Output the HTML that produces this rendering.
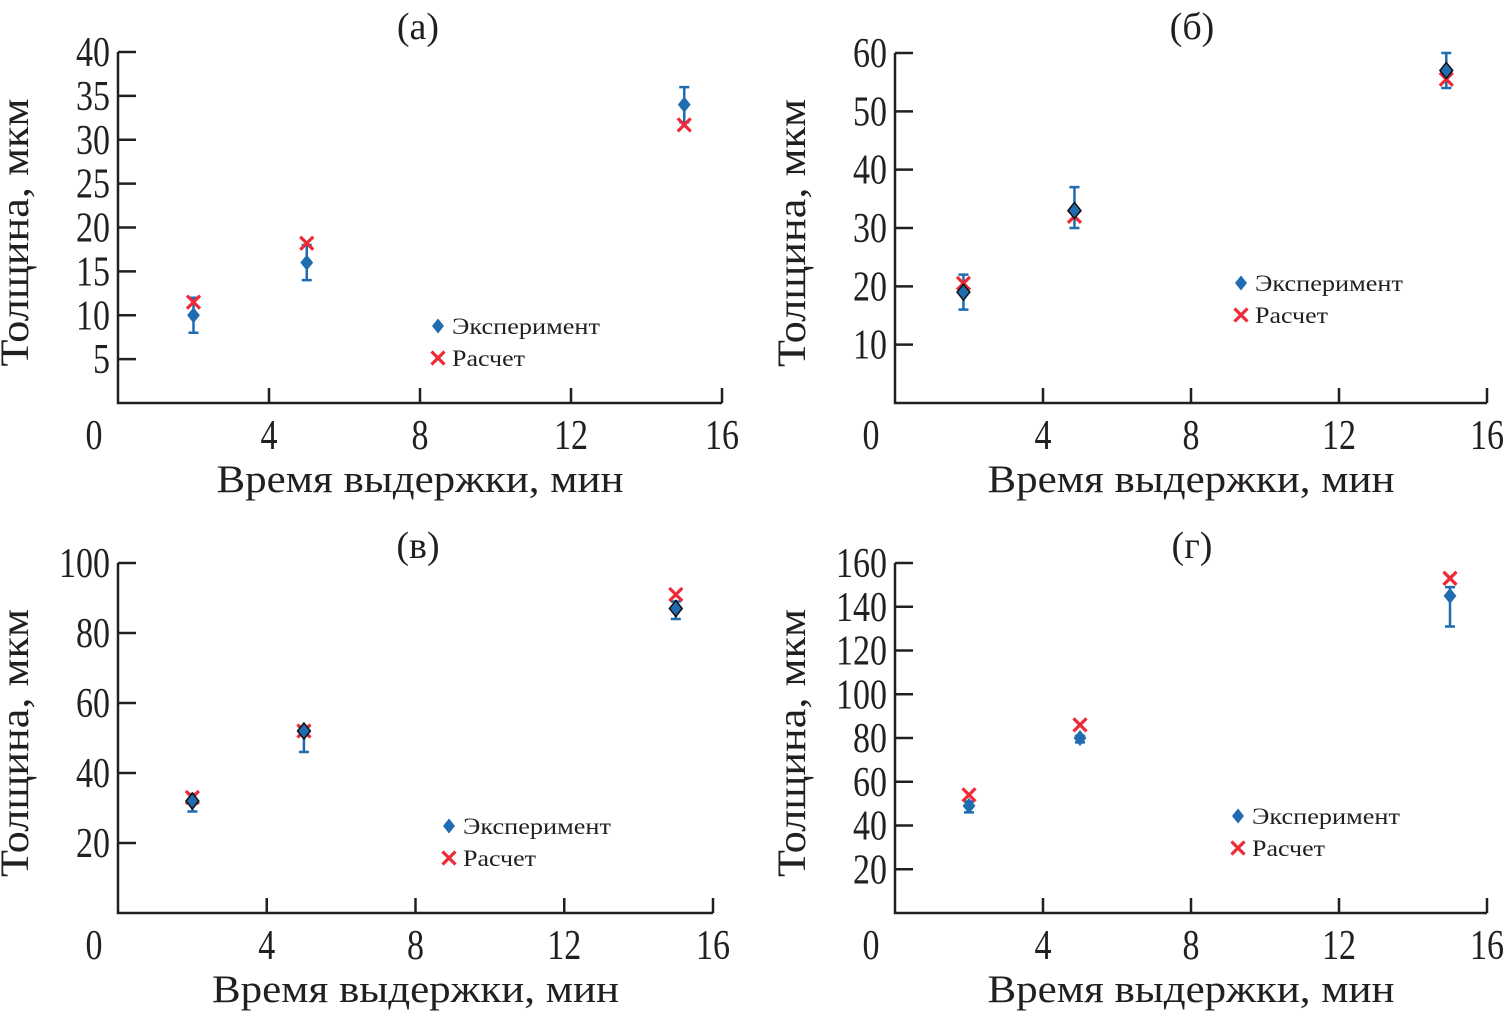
<!DOCTYPE html>
<html><head><meta charset="utf-8"><style>
html,body{margin:0;padding:0;background:#fff}
svg{display:block}
text{font-family:"Liberation Serif",serif;fill:#231f20}
</style></head><body>
<svg id="c" width="1510" height="1019" viewBox="0 0 1510 1019"></svg>
<script>
const xTicks=[0,4,8,12,16];
const titles=["(а)","(б)","(в)","(г)"];
const yTicksA=[5,10,15,20,25,30,35,40];
const yTicksB=[10,20,30,40,50,60];
const yTicksC=[20,40,60,80,100];
const yTicksD=[20,40,60,80,100,120,140,160];
const expXA=[2,5,15], expYA=[10,16,34], errLoA=[8,14,32], errHiA=[12,18,36];
const calcXA=[2,5,15], calcYA=[11.5,18.2,31.7];
const expXB=[1.85,4.85,14.9], expYB=[19,33,57], errLoB=[16,30,54], errHiB=[22,37,60];
const calcXB=[1.85,4.85,14.9], calcYB=[20.5,32,55.5];
const expXC=[2,5,15], expYC=[32,52,87], errLoC=[29,46,84], errHiC=[34,53,89];
const calcXC=[2,5,15], calcYC=[33,52,91];
const expXD=[2,5,15], expYD=[49,80,145], errLoD=[46,78,131], errHiD=[51,81,149];
const calcXD=[2,5,15], calcYD=[54,86,153];

const panels=[
 {id:"a",x0:118,x1:722,y0:403,yTop:52,yMax:40,ticks:yTicksA,ex:expXA,ey:expYA,lo:errLoA,hi:errHiA,cx:calcXA,cy:calcYA,lg:[438,326],title:[418,26]},
 {id:"b",x0:895,x1:1487,y0:403,yTop:53,yMax:60,ticks:yTicksB,ex:expXB,ey:expYB,lo:errLoB,hi:errHiB,cx:calcXB,cy:calcYB,lg:[1241,283],title:[1192,26]},
 {id:"c",x0:118,x1:713,y0:913,yTop:563,yMax:100,ticks:yTicksC,ex:expXC,ey:expYC,lo:errLoC,hi:errHiC,cx:calcXC,cy:calcYC,lg:[449,826],title:[418,545]},
 {id:"d",x0:895,x1:1487,y0:913,yTop:563,yMax:160,ticks:yTicksD,ex:expXD,ey:expYD,lo:errLoD,hi:errHiD,cx:calcXD,cy:calcYD,lg:[1238,816],title:[1192,545]}
];
const NS="http://www.w3.org/2000/svg";
const svg=document.getElementById("c");
function mk(tag,attrs,parent,txt){const e=document.createElementNS(NS,tag);for(const k in attrs)e.setAttribute(k,attrs[k]);if(txt!==undefined)e.textContent=txt;(parent||svg).appendChild(e);return e;}
const BLUE="#1f6cb0",RED="#ee2a36";
function diamond(g,x,y,r,stroke){const p=mk("polygon",{points:`${x},${y-r} ${x+r*0.8},${y} ${x},${y+r} ${x-r*0.8},${y}`,fill:BLUE,stroke:stroke||"none","stroke-width":1.5},g);return p;}
function cross(g,x,y,r){const p=mk("path",{d:`M${x-r},${y-r}L${x+r},${y+r}M${x+r},${y-r}L${x-r},${y+r}`,stroke:RED,"stroke-width":3.2,fill:"none"},g);return p;}
panels.forEach((P,i)=>{
 const g=mk("g",{});
 
 
 const sx=v=>P.x0+(P.x1-P.x0)*v/16;
 const sy=v=>P.y0-(P.y0-P.yTop)*v/P.yMax;
 const t=mk("text",{x:P.title[0],y:P.title[1]+13,"font-size":38,"text-anchor":"middle"},g,titles[i]);
 
 
 const ax=mk("path",{d:`M${P.x0},${P.yTop}V${P.y0}H${P.x1}`,stroke:"#231f20","stroke-width":2.5,fill:"none"},g);
 
 
 P.ticks.forEach(v=>{
  mk("line",{x1:P.x0,x2:P.x0+18,y1:sy(v),y2:sy(v),stroke:"#231f20","stroke-width":2.5},g);
  const s=String(v);
  const l=mk("text",{x:P.x0-8,y:sy(v)+14,"font-size":42,"text-anchor":"end",textLength:s.length*17,lengthAdjust:"spacingAndGlyphs"},g,s);
  
  
 });
 xTicks.forEach(v=>{
  if(v>0)mk("line",{x1:sx(v),x2:sx(v),y1:P.y0,y2:P.y0-15,stroke:"#231f20","stroke-width":2.5},g);
  const s=String(v);
  const l=mk("text",{x:v==0?P.x0-24:sx(v),y:P.y0+46,"font-size":42,"text-anchor":"middle",textLength:s.length*17,lengthAdjust:"spacingAndGlyphs"},g,s);
  
  
 });
 const xt=mk("text",{x:(P.x0+P.x1)/2,y:P.y0+89,"font-size":39,"text-anchor":"middle",textLength:407,lengthAdjust:"spacingAndGlyphs"},g,"Время выдержки, мин");
 
 
 const ycx=P.x0-90, ycy=(P.y0+P.yTop)/2+5;
 const yt=mk("text",{x:ycx,y:ycy,"font-size":40,"text-anchor":"middle",transform:`rotate(-90 ${ycx} ${ycy})`,textLength:268,lengthAdjust:"spacingAndGlyphs"},g,"Толщина, мкм");
 
 
 P.ex.forEach((xv,k)=>{
  const x=sx(xv);
  const e=mk("path",{d:`M${x},${sy(P.lo[k])}V${sy(P.hi[k])}M${x-5},${sy(P.lo[k])}H${x+5}M${x-5},${sy(P.hi[k])}H${x+5}`,stroke:BLUE,"stroke-width":2.5,fill:"none"},g);
  
  
 });
 P.cx.forEach((xv,k)=>{
  const c=cross(g,sx(xv),sy(P.cy[k]),6.5);
  
  
 });
 P.ex.forEach((xv,k)=>{
  const d=diamond(g,sx(xv),sy(P.ey[k]),8,(P.id=="b"||P.id=="c")?"#111":"none");
  
  
 });
 const lg=mk("g",{},g);
 
 
 diamond(lg,P.lg[0],P.lg[1],7.5);
 const l1=mk("text",{x:P.lg[0]+14,y:P.lg[1]+8,"font-size":23,textLength:148,lengthAdjust:"spacingAndGlyphs"},lg,"Эксперимент");
 
 
 cross(lg,P.lg[0],P.lg[1]+32,6.5);
 const l2=mk("text",{x:P.lg[0]+14,y:P.lg[1]+40,"font-size":23,textLength:73,lengthAdjust:"spacingAndGlyphs"},lg,"Расчет");
 
 
});
</script>
</body></html>
